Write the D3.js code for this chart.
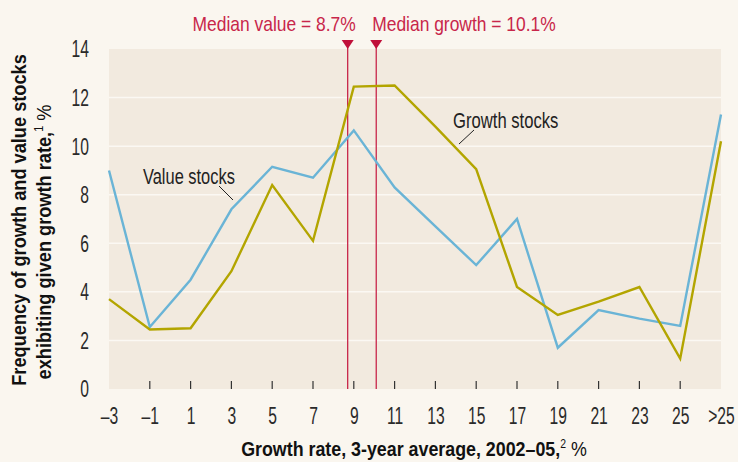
<!DOCTYPE html>
<html>
<head>
<meta charset="utf-8">
<script src="https://cdn.jsdelivr.net/npm/d3@7"></script>
<style>
  body { margin: 0; background: #faf6ef; }
  svg { display: block; font-family: "Liberation Sans", Arial, sans-serif; }
</style>
</head>
<body>
<svg id="chart" width="738" height="462"></svg>
<script>
// growth-rate buckets, %
var categories = ["-3", "-1", "1", "3", "5", "7", "9", "11", "13", "15", "17", "19", "21", "23", "25", ">25"]
var tickLabels = ["\u20133", "\u20131", "1", "3", "5", "7", "9", "11", "13", "15", "17", "19", "21", "23", "25", ">25"]
var valueStocks = [9.0, 2.55, 4.5, 7.4, 9.15, 8.7, 10.65, 8.3, 6.7, 5.1, 7.0, 1.7, 3.25, 2.9, 2.6, 11.3]
var growthStocks = [3.7, 2.45, 2.5, 4.85, 8.4, 6.1, 12.45, 12.5, 10.8, 9.05, 4.2, 3.05, 3.6, 4.2, 1.25, 10.2]
var yTicks = [0, 2, 4, 6, 8, 10, 12, 14]
var medians = [{ label: "Median value = 8.7%", v: 8.7, anchor: "end" },
               { label: "Median growth = 10.1%", v: 10.1, anchor: "start" }]

var svg = d3.select("#chart")
var L = 109, R = 721, T = 49, B = 389

var x = d3.scalePoint().domain(categories).range([L, R])
var xv = d3.scaleLinear().domain([-3, 27]).range([L, R])
var y = d3.scaleLinear().domain([0, 14]).range([B, T])

// fake a condensed face by squeezing horizontally around the anchor
function squeeze(sel, sx) {
  sel.each(function () {
    var t = d3.select(this), px = +t.attr("x") || 0, py = +t.attr("y") || 0
    t.attr("transform", "translate(" + px + "," + py + ") scale(" + sx + ",1) translate(" + (-px) + "," + (-py) + ")")
  })
}

svg.append("rect").attr("x", L).attr("y", T).attr("width", R - L).attr("height", B - T).attr("fill", "#f2eadf")

svg.selectAll(".grid").data(yTicks.filter(function (d) { return d > 0 && d < 14 }))
  .enter().append("line")
  .attr("x1", L).attr("x2", R)
  .attr("y1", function (d) { return y(d) }).attr("y2", function (d) { return y(d) })
  .attr("stroke", "#fbf8f3").attr("stroke-width", 1.5)

// y tick labels
svg.selectAll(".ylab").data(yTicks).enter().append("text")
  .attr("x", 89).attr("y", function (d) { return y(d) + 8.5 })
  .attr("text-anchor", "end").attr("font-size", 23).attr("fill", "#2a2a2a")
  .text(function (d) { return d })
  .call(squeeze, 0.68)

// x ticks
var xAxis = svg.append("g").attr("transform", "translate(0," + B + ")")
  .call(d3.axisBottom(x).tickSize(0).tickFormat(function (d, i) { return tickLabels[i] }))
xAxis.select(".domain").remove()
xAxis.selectAll("text").attr("font-size", 23).attr("fill", "#2a2a2a").attr("dy", null).attr("y", 35)
  .attr("font-family", "Liberation Sans, Arial, sans-serif")
  .call(squeeze, 0.68)
svg.selectAll(".tk").data(categories.slice(1, -1)).enter().append("line")
  .attr("x1", function (d) { return x(d) }).attr("x2", function (d) { return x(d) })
  .attr("y1", B - 8).attr("y2", B).attr("stroke", "#333").attr("stroke-width", 1.2)

// medians
medians.forEach(function (m) {
  var mx = xv(m.v)
  svg.append("line").attr("x1", mx).attr("x2", mx).attr("y1", 46).attr("y2", B)
    .attr("stroke", "#c8264a").attr("stroke-width", 1.3)
  svg.append("path").attr("d", "M" + (mx - 6) + ",40L" + (mx + 6) + ",40L" + mx + ",49Z").attr("fill", "#c0103a")
  svg.append("text").attr("x", m.anchor == "end" ? mx + 8 : mx - 4).attr("y", 31)
    .attr("text-anchor", m.anchor).attr("font-size", 20.5).attr("fill", "#c8264a").text(m.label)
    .call(squeeze, 0.85)
})

var line = d3.line().x(function (d, i) { return x(categories[i]) }).y(function (d) { return y(d) })
svg.append("path").datum(valueStocks).attr("d", line).attr("fill", "none")
  .attr("stroke", "#6ab4d6").attr("stroke-width", 2.4).attr("stroke-linejoin", "miter")
svg.append("path").datum(growthStocks).attr("d", line).attr("fill", "none")
  .attr("stroke", "#b3a500").attr("stroke-width", 2.4).attr("stroke-linejoin", "miter")

// series labels
svg.append("text").attr("x", 143).attr("y", 184).attr("font-size", 22.5).attr("fill", "#222").text("Value stocks")
  .call(squeeze, 0.73)
svg.append("line").attr("x1", 219).attr("y1", 186).attr("x2", 233).attr("y2", 200).attr("stroke", "#222")
svg.append("text").attr("x", 453).attr("y", 128).attr("font-size", 22.5).attr("fill", "#222").text("Growth stocks")
  .call(squeeze, 0.74)
svg.append("line").attr("x1", 474).attr("y1", 130).attr("x2", 459).attr("y2", 144).attr("stroke", "#222")

// axis titles
var xt = svg.append("text").attr("x", 414).attr("y", 456).attr("text-anchor", "middle")
  .attr("font-size", 20.5).attr("font-weight", "bold").attr("fill", "#111")
xt.append("tspan").text("Growth rate, 3-year average, 2002\u201305,")
xt.append("tspan").attr("font-size", 12).attr("font-weight", "normal").attr("dy", -8).text("2")
xt.append("tspan").attr("font-size", 20.5).attr("font-weight", "normal").attr("dy", 8).text(" %")
xt.call(squeeze, 0.87)

var yt1 = svg.append("text").attr("transform", "translate(26,220) rotate(-90) scale(0.91,1)").attr("text-anchor", "middle")
  .attr("font-size", 20).attr("font-weight", "bold").attr("fill", "#111")
  .text("Frequency of growth and value stocks")
var yt2 = svg.append("text").attr("transform", "translate(51,242) rotate(-90) scale(0.91,1)").attr("text-anchor", "middle")
  .attr("font-size", 20).attr("font-weight", "bold").attr("fill", "#111")
yt2.append("tspan").text("exhibiting given growth rate,")
yt2.append("tspan").attr("font-size", 12).attr("font-weight", "normal").attr("dy", -8).text("1")
yt2.append("tspan").attr("font-size", 20).attr("font-weight", "normal").attr("dy", 8).text(" %")
</script>
</body>
</html>
